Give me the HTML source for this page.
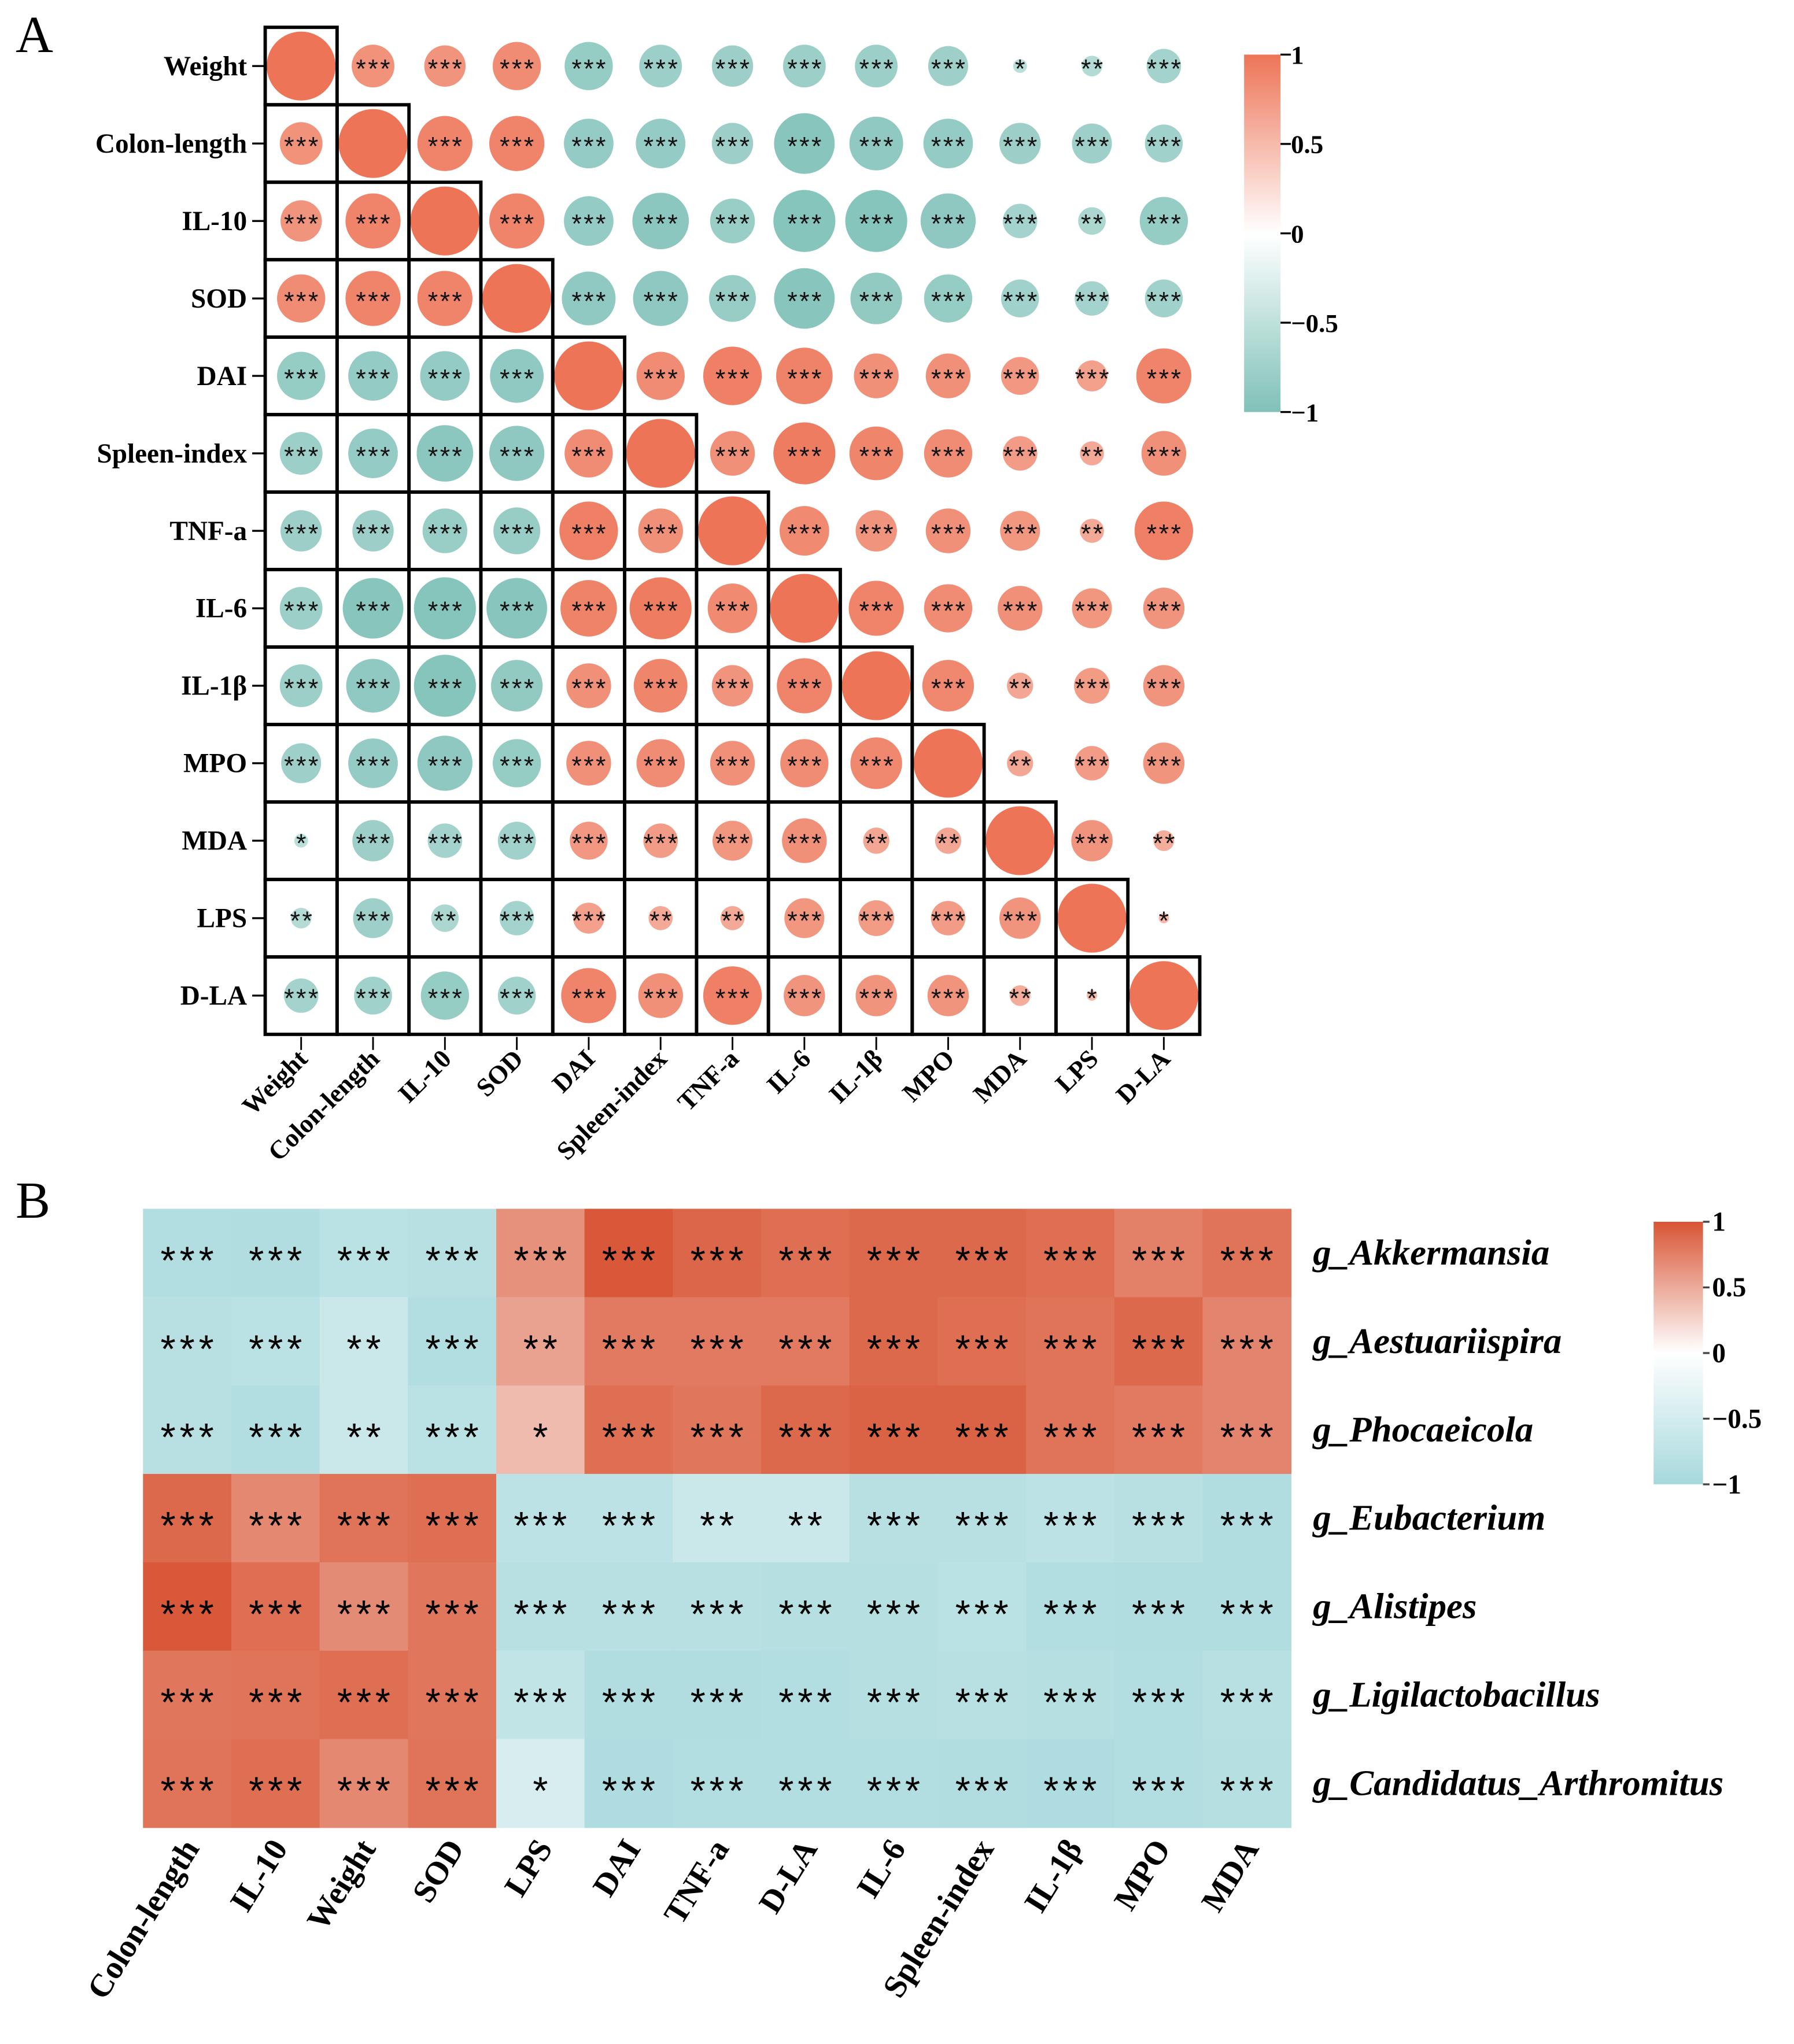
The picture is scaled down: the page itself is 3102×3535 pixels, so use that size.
<!DOCTYPE html>
<html><head><meta charset="utf-8"><title>Correlation figure</title>
<style>html,body{margin:0;padding:0;background:#fff}svg{display:block}</style></head>
<body>
<svg id="fig" xmlns="http://www.w3.org/2000/svg" width="3102" height="3535" viewBox="0 0 1380 1572.6" font-family="'Liberation Serif', serif">
<rect width="1380" height="1572.6" fill="#fff"/>
<text x="12" y="40" font-size="40">A</text>
<text x="12" y="937" font-size="40">B</text>
<g id="pa"></g>
<g id="pb"></g>
</svg>
<script>
// ---------- Panel A data ----------
const varsA = ["Weight","Colon-length","IL-10","SOD","DAI","Spleen-index","TNF-a","IL-6","IL-1β","MPO","MDA","LPS","D-LA"];
const upperA = [
 [0.62,0.6,0.7,-0.7,-0.62,-0.6,-0.62,-0.62,-0.58,-0.2,-0.3,-0.5],
 [0.8,0.8,-0.72,-0.72,-0.6,-0.88,-0.78,-0.72,-0.6,-0.58,-0.55],
 [0.8,-0.72,-0.82,-0.65,-0.9,-0.9,-0.8,-0.5,-0.4,-0.7],
 [-0.78,-0.8,-0.68,-0.88,-0.75,-0.7,-0.55,-0.5,-0.55],
 [0.7,0.85,0.82,0.65,0.65,0.55,0.45,0.8],
 [0.65,0.9,0.78,0.7,0.5,0.35,0.65],
 [0.72,0.6,0.65,0.58,0.35,0.85],
 [0.8,0.7,0.65,0.58,0.6],
 [0.75,0.38,0.52,0.6],
 [0.38,0.5,0.6],
 [0.6,0.3],
 [0.15]
];
const starsA = [
 ["***","***","***","***","***","***","***","***","***","*","**","***"],
 ["***","***","***","***","***","***","***","***","***","***","***"],
 ["***","***","***","***","***","***","***","***","**","***"],
 ["***","***","***","***","***","***","***","***","***"],
 ["***","***","***","***","***","***","***","***"],
 ["***","***","***","***","***","**","***"],
 ["***","***","***","***","**","***"],
 ["***","***","***","***","***"],
 ["***","**","***","***"],
 ["**","***","***"],
 ["***","**"],
 ["*"]
];
const cbTicksA = [1,0.5,0,-0.5,-1];
const cbLabelsA = ["1","0.5","0","−0.5","−1"];

// ---------- Panel B data ----------
const colsB = ["Colon-length","IL-10","Weight","SOD","LPS","DAI","TNF-a","D-LA","IL-6","Spleen-index","IL-1β","MPO","MDA"];
const rowsB = ["g_Akkermansia","g_Aestuariispira","g_Phocaeicola","g_Eubacterium","g_Alistipes","g_Ligilactobacillus","g_Candidatus_Arthromitus"];
const valsB0 = [-0.85,-0.88,-0.78,-0.8,0.65,0.98,0.9,0.85,0.88,0.88,0.85,0.75,0.82];
const valsB1 = [-0.8,-0.78,-0.6,-0.85,0.55,0.78,0.78,0.78,0.88,0.85,0.82,0.88,0.72];
const valsB2 = [-0.8,-0.85,-0.6,-0.78,0.4,0.85,0.8,0.88,0.92,0.92,0.82,0.78,0.72];
const valsB3 = [0.88,0.7,0.82,0.85,-0.75,-0.75,-0.6,-0.6,-0.8,-0.8,-0.75,-0.8,-0.88];
const valsB4 = [0.98,0.85,0.68,0.8,-0.8,-0.8,-0.8,-0.82,-0.82,-0.78,-0.85,-0.88,-0.88];
const valsB5 = [0.8,0.82,0.85,0.8,-0.7,-0.88,-0.88,-0.85,-0.82,-0.8,-0.82,-0.85,-0.8];
const valsB6 = [0.82,0.85,0.7,0.82,-0.45,-0.9,-0.85,-0.85,-0.85,-0.88,-0.9,-0.85,-0.82];
const starsB0 = ["***","***","***","***","***","***","***","***","***","***","***","***","***"];
const starsB1 = ["***","***","**","***","**","***","***","***","***","***","***","***","***"];
const starsB2 = ["***","***","**","***","*","***","***","***","***","***","***","***","***"];
const starsB3 = ["***","***","***","***","***","***","**","**","***","***","***","***","***"];
const starsB4 = ["***","***","***","***","***","***","***","***","***","***","***","***","***"];
const starsB5 = ["***","***","***","***","***","***","***","***","***","***","***","***","***"];
const starsB6 = ["***","***","***","***","*","***","***","***","***","***","***","***","***"];
const cbTicksB = [1,0.5,0,-0.5,-1];
const cbLabelsB = ["1","0.5","0","−0.5","−1"];

const NS = "http://www.w3.org/2000/svg";
function mk(tag, attrs, parent){const e=document.createElementNS(NS,tag);for(const k in attrs)e.setAttribute(k,attrs[k]);parent.appendChild(e);return e;}
function lerp(a,b,t){return Math.round(a+(b-a)*t);}
function colorFn(pos,neg){return v=>{const t=Math.min(1,Math.abs(v));const c=v>=0?pos:neg;return `rgb(${lerp(255,c[0],t)},${lerp(255,c[1],t)},${lerp(255,c[2],t)})`;};}
const colA0 = colorFn([237,116,86],[127,193,184]);
const colA = v => colA0(Math.sign(v)*(0.42+0.58*Math.abs(v)));
const colB = colorFn([216,85,53],[166,216,220]);

// ---------- Panel A ----------
const pa = document.getElementById('pa');
const x0=204, cw=55.3, y0=21, ch=59.6, n=varsA.length;
const xA = i => x0 + cw*(i+0.5);
const yA = i => y0 + ch*(i+0.5);
const rA = v => 26.5*Math.abs(v);
function valA(i,j){ if(i===j) return 1; return i<j ? upperA[i][j-i-1] : upperA[j][i-j-1]; }
function starA(i,j){ if(i===j) return ""; return i<j ? starsA[i][j-i-1] : starsA[j][i-j-1]; }
for(let i=0;i<n;i++){
  for(let j=0;j<n;j++){
    const v=valA(i,j);
    const c=mk('circle',{cx:xA(j),cy:yA(i),r:rA(v),fill:colA(v)},pa);
    
    
    const s=starA(i,j);
    if(s){const t=mk('text',{x:xA(j)+0.75,y:yA(i)+9,'font-size':20,'letter-spacing':1.5,'text-anchor':'middle',fill:'#111','font-family':"'Liberation Sans', sans-serif"},pa);t.textContent=s;
      
      }
  }
}
for(let i=0;i<n;i++){
  for(let j=0;j<=i;j++){
    const r=mk('rect',{x:x0+cw*j,y:y0+ch*i,width:cw,height:ch,fill:'none',stroke:'#000','stroke-width':2.6},pa);
    
    
  }
}
for(let i=0;i<n;i++){
  mk('line',{x1:194,x2:203,y1:yA(i),y2:yA(i),stroke:'#000','stroke-width':1.5},pa);
  const t=mk('text',{x:190,y:yA(i)+7,'font-size':21,'font-weight':'bold','text-anchor':'end'},pa);t.textContent=varsA[i];
  
  
}
const yb=y0+ch*n;
for(let j=0;j<n;j++){
  mk('line',{x1:xA(j),x2:xA(j),y1:yb+2,y2:yb+12,stroke:'#000','stroke-width':1.3},pa);
  const tx=xA(j)+6, ty=yb+20;
  const t=mk('text',{x:tx,y:ty,'font-size':20,'font-weight':'bold','text-anchor':'end',transform:`rotate(-45 ${tx} ${ty})`},pa);t.textContent=varsA[j];
  
  
}
(function(){
  const cx=957,cwid=28,ct=42,cb=317;
  const defs=mk('defs',{},pa);
  const g=mk('linearGradient',{id:'gA',x1:0,y1:0,x2:0,y2:1},defs);
  for(let k=0;k<=20;k++){const v=1-k/10;mk('stop',{offset:k/20,'stop-color':colA0(v)},g);}
  const r=mk('rect',{x:cx,y:ct,width:cwid,height:cb-ct,fill:'url(#gA)'},pa);
  
  
  const yc=v=>ct+(1-v)/2*(cb-ct);
  cbTicksA.forEach((v,k)=>{
    mk('line',{x1:cx+cwid,x2:cx+cwid+8,y1:yc(v),y2:yc(v),stroke:'#000','stroke-width':1.5},pa);
    const t=mk('text',{x:cx+cwid+8,y:yc(v)+7,'font-size':20,'font-weight':'bold'},pa);t.textContent=cbLabelsA[k];
    
    
  });
})();

// ---------- Panel B ----------
const pb=document.getElementById('pb');
const valsB=[valsB0,valsB1,valsB2,valsB3,valsB4,valsB5,valsB6];
const starsB=[starsB0,starsB1,starsB2,starsB3,starsB4,starsB5,starsB6];
const bx0=110,bx1=993,by0=930,by1=1406;
const bcw=(bx1-bx0)/colsB.length, bch=(by1-by0)/rowsB.length;
const xB=j=>bx0+bcw*j, yB=i=>by0+bch*i;
for(let i=0;i<rowsB.length;i++){
  for(let j=0;j<colsB.length;j++){
    const v=valsB[i][j];
    const r=mk('rect',{x:xB(j),y:yB(i),width:bcw+0.4,height:bch+0.4,fill:colB(v)},pb);
    
    
    const t=mk('text',{x:xB(j)+bcw/2+1.5,y:yB(i)+bch/2+16,'font-size':30,'letter-spacing':3,'text-anchor':'middle',fill:'#000','font-family':"'Liberation Sans', sans-serif"},pb);t.textContent=starsB[i][j];
    
    
  }
  const t=mk('text',{x:1010,y:yB(i)+bch/2+9,'font-size':28,'font-weight':'bold','font-style':'italic'},pb);t.textContent=rowsB[i];
  
  
}
for(let j=0;j<colsB.length;j++){
  const tx=xB(j)+bcw/2+10, ty=by1+16;
  const t=mk('text',{x:tx,y:ty,'font-size':25,'font-weight':'bold','text-anchor':'end',transform:`rotate(-58 ${tx} ${ty})`},pb);t.textContent=colsB[j];
  
  
}
(function(){
  const cx=1272,cwid=38,ct=940,cb=1142;
  const defs=mk('defs',{},pb);
  const g=mk('linearGradient',{id:'gB',x1:0,y1:0,x2:0,y2:1},defs);
  for(let k=0;k<=20;k++){const v=1-k/10;mk('stop',{offset:k/20,'stop-color':colB(v)},g);}
  const r=mk('rect',{x:cx,y:ct,width:cwid,height:cb-ct,fill:'url(#gB)'},pb);
  
  
  const yc=v=>ct+(1-v)/2*(cb-ct);
  cbTicksB.forEach((v,k)=>{
    mk('line',{x1:cx+cwid,x2:cx+cwid+5,y1:yc(v),y2:yc(v),stroke:'#444','stroke-width':1.5},pb);
    const t=mk('text',{x:cx+cwid+7,y:yc(v)+7,'font-size':21,'font-weight':'bold'},pb);t.textContent=cbLabelsB[k];
    
    
  });
})();
</script>
</body></html>
